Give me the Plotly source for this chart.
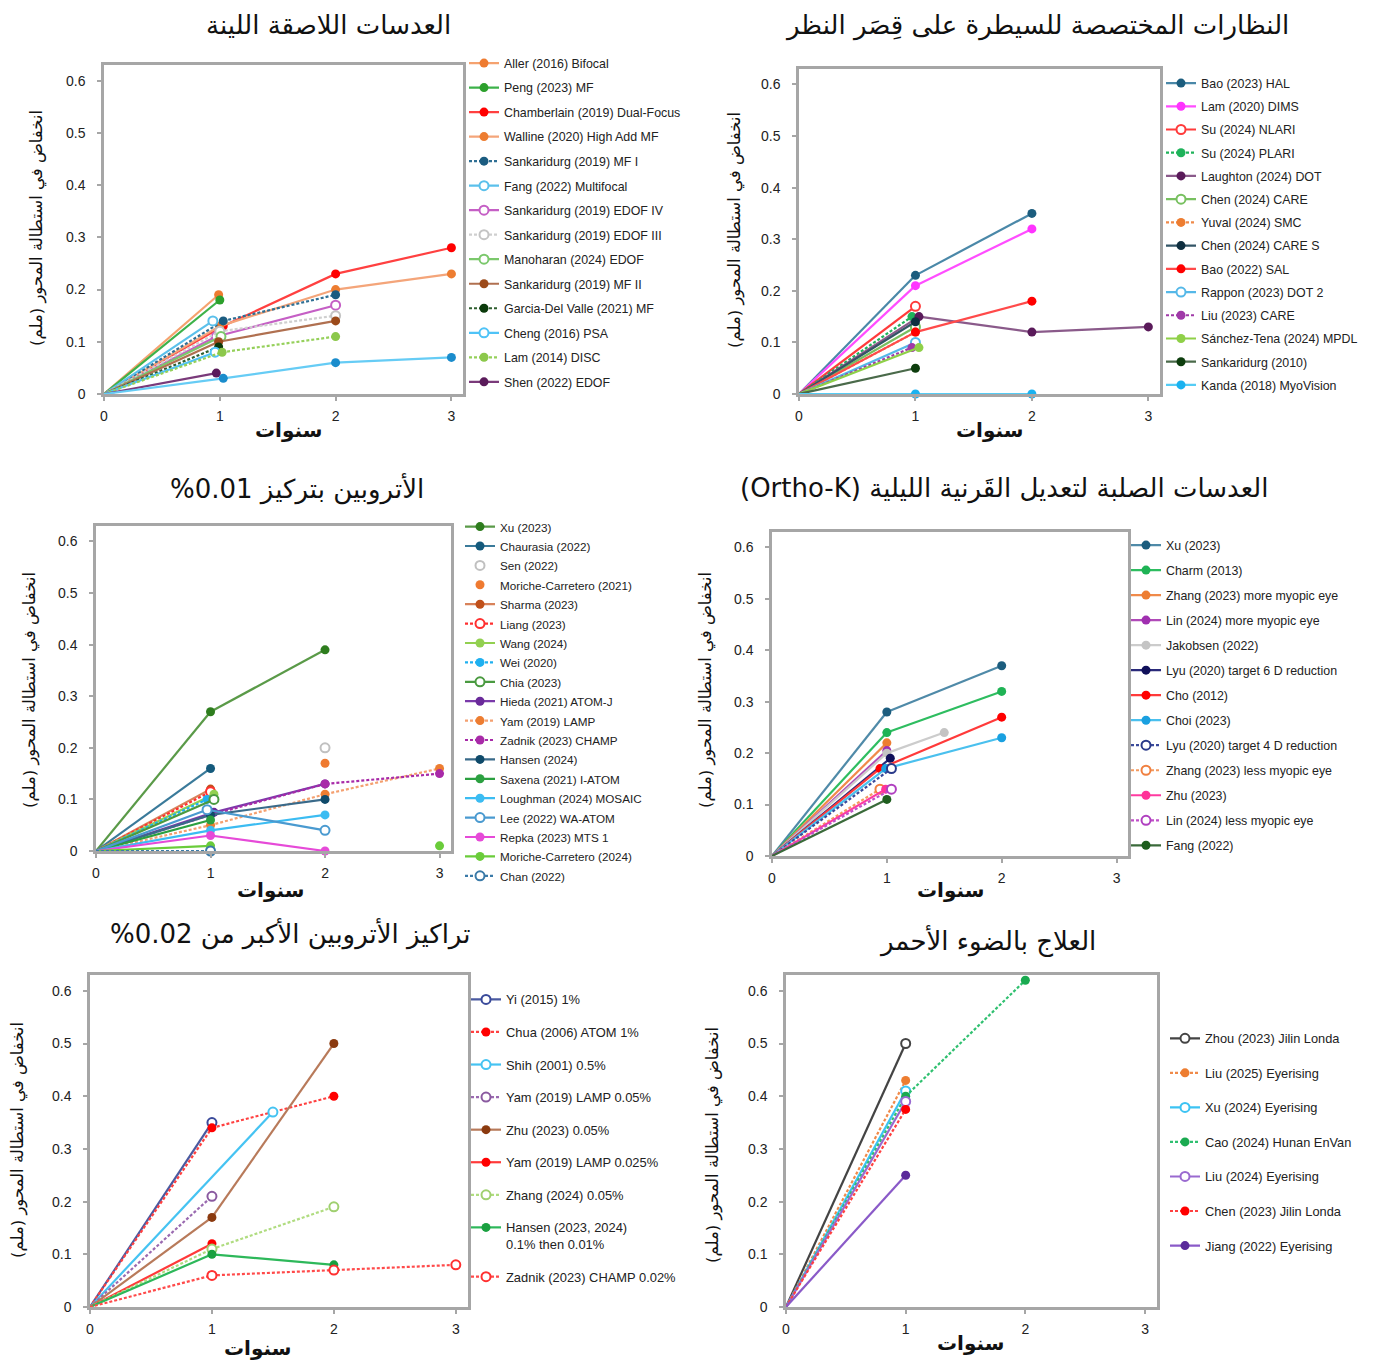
import plotly.graph_objects as go

# ---------------- data ----------------
P1_NAMES = ["Aller (2016) Bifocal", "Peng (2023) MF", "Chamberlain (2019) Dual-Focus",
            "Walline (2020) High Add MF", "Sankaridurg (2019) MF I", "Fang (2022) Multifocal",
            "Sankaridurg (2019) EDOF IV", "Sankaridurg (2019) EDOF III", "Manoharan (2024) EDOF",
            "Sankaridurg (2019) MF II", "Garcia-Del Valle (2021) MF", "Cheng (2016) PSA",
            "Lam (2014) DISC", "Shen (2022) EDOF", "(3-year series)"]
P1_YEARS = [[0, 0.99], [0, 1.0], [0, 1.03, 2, 3], [0, 1, 2, 3], [0, 1.03, 2], [0, 0.94],
            [0, 0.97, 2], [0, 1, 2], [0, 1.01], [0, 0.99, 2], [0, 0.99], [0, 0.96],
            [0, 1.02, 2], [0, 0.97], [0, 1.03, 2, 3]]
P1_VALUES = [[0, 0.19], [0, 0.18], [0, 0.13, 0.23, 0.28], [0, 0.13, 0.20, 0.23],
             [0, 0.14, 0.19], [0, 0.14], [0, 0.11, 0.17], [0, 0.12, 0.15], [0, 0.11],
             [0, 0.10, 0.14], [0, 0.09], [0, 0.08], [0, 0.08, 0.11], [0, 0.04],
             [0, 0.03, 0.06, 0.07]]
P1_IN_LEGEND = [True] * 14 + [False]

P2_NAMES = ["Bao (2023) HAL", "Lam (2020) DIMS", "Su (2024) NLARI", "Su (2024) PLARI",
            "Laughton (2024) DOT", "Chen (2024) CARE", "Yuval (2024) SMC", "Chen (2024) CARE S",
            "Bao (2022) SAL", "Rappon (2023) DOT 2", "Liu (2023) CARE",
            "Sánchez-Tena (2024) MPDL", "Sankaridurg (2010)", "Kanda (2018) MyoVision"]
P2_YEARS = [[0, 1, 2], [0, 1, 2], [0, 1], [0, 0.97], [0, 1.03, 2, 3], [0, 1], [0, 1], [0, 1],
            [0, 1, 2], [0, 1], [0, 0.97], [0, 1.03], [0, 1], [0, 1, 2]]
P2_VALUES = [[0, 0.23, 0.35], [0, 0.21, 0.32], [0, 0.17], [0, 0.15], [0, 0.15, 0.12, 0.13],
             [0, 0.13], [0, 0.12], [0, 0.14], [0, 0.12, 0.18], [0, 0.10], [0, 0.09],
             [0, 0.09], [0, 0.05], [0, 0.0, 0.0]]

P3_NAMES = ["Xu (2023)", "Chaurasia (2022)", "Sen (2022)", "Moriche-Carretero (2021)",
            "Sharma (2023)", "Liang (2023)", "Wang (2024)", "Wei (2020)", "Chia (2023)",
            "Hieda (2021) ATOM-J", "Yam (2019) LAMP", "Zadnik (2023) CHAMP", "Hansen (2024)",
            "Saxena (2021) I-ATOM", "Loughman (2024) MOSAIC", "Lee (2022) WA-ATOM",
            "Repka (2023) MTS 1", "Moriche-Carretero (2024)", "Chan (2022)"]
P3_YEARS = [[0, 1, 2], [0, 1], [2], [2], [0, 1], [0, 1], [0, 1.03], [0, 0.97], [0, 1.03],
            [0, 1.03, 2], [0, 1, 2, 3], [0, 1, 2, 3], [0, 1, 2], [0, 1], [0, 1, 2],
            [0, 0.97, 2], [0, 1, 2], [0, 1, 2, 3], [0, 1]]
P3_VALUES = [[0, 0.27, 0.39], [0, 0.16], [0.20], [0.17], [0, 0.12], [0, 0.115], [0, 0.11],
             [0, 0.10], [0, 0.10], [0, 0.075, 0.13], [0, 0.05, 0.11, 0.16],
             [0, 0.07, 0.13, 0.15], [0, 0.07, 0.10], [0, 0.06], [0, 0.04, 0.07],
             [0, 0.08, 0.04], [0, 0.03, 0.0], [0, 0.01, None, 0.01], [0, 0.0]]

P4_NAMES = ["Xu (2023)", "Charm (2013)", "Zhang (2023) more myopic eye",
            "Lin (2024) more myopic eye", "Jakobsen (2022)", "Lyu (2020) target 6 D reduction",
            "Cho (2012)", "Choi (2023)", "Lyu (2020) target 4 D reduction",
            "Zhang (2023) less myopic eye", "Zhu (2023)", "Lin (2024) less myopic eye",
            "Fang (2022)"]
P4_YEARS = [[0, 1, 2], [0, 1, 2], [0, 1], [0, 1], [0, 1, 1.5], [0, 1.03], [0, 0.94, 2],
            [0, 0.99, 2], [0, 1.04], [0, 0.94], [0, 0.99], [0, 1.04], [0, 1]]
P4_VALUES = [[0, 0.28, 0.37], [0, 0.24, 0.32], [0, 0.22], [0, 0.205], [0, 0.20, 0.24],
             [0, 0.19], [0, 0.17, 0.27], [0, 0.17, 0.23], [0, 0.17], [0, 0.13], [0, 0.13],
             [0, 0.13], [0, 0.11]]

P5_NAMES = ["Yi (2015) 1%", "Chua (2006) ATOM 1%", "Shih (2001) 0.5%",
            "Yam (2019) LAMP 0.05%", "Zhu (2023) 0.05%", "Yam (2019) LAMP 0.025%",
            "Zhang (2024) 0.05%", "Hansen (2023, 2024)<br>0.1% then 0.01%",
            "Zadnik (2023) CHAMP 0.02%"]
P5_YEARS = [[0, 1], [0, 1, 2], [0, 1.5], [0, 1], [0, 1, 2], [0, 1], [0, 1, 2], [0, 1, 2],
            [0, 1, 2, 3]]
P5_VALUES = [[0, 0.35], [0, 0.34, 0.40], [0, 0.37], [0, 0.21], [0, 0.17, 0.50], [0, 0.12],
             [0, 0.11, 0.19], [0, 0.10, 0.08], [0, 0.06, 0.07, 0.08]]

P6_NAMES = ["Zhou (2023) Jilin Londa", "Liu (2025) Eyerising", "Xu (2024) Eyerising",
            "Cao (2024) Hunan EnVan", "Liu (2024) Eyerising", "Chen (2023) Jilin Londa",
            "Jiang (2022) Eyerising"]
P6_YEARS = [[0, 1], [0, 1], [0, 1], [0, 1, 2], [0, 1], [0, 1], [0, 1]]
P6_VALUES = [[0, 0.50], [0, 0.43], [0, 0.41], [0, 0.40, 0.62], [0, 0.39], [0, 0.375], [0, 0.25]]

TITLES = ["العدسات اللاصقة اللينة",
          "النظارات المختصصة للسيطرة على قِصَر النظر",
          "الأتروبين بتركيز 0.01%",
          "العدسات الصلبة لتعديل القَرنية الليلية (Ortho-K)",
          "تراكيز الأتروبين الأكبر من 0.02%",
          "العلاج بالضوء الأحمر"]
Y_TITLE = "انخفاض في استطالة المحور (ملم)"
X_TITLE = "سنوات"

# ---------------- styles ----------------
# (line colour, marker colour, dashed, open marker)
P1_STYLE = [("#f5a26f", "#ee7b30", 0, 0), ("#3db24a", "#2ca02c", 0, 0), ("#ff4040", "#ff0000", 0, 0),
            ("#f4a57a", "#ed7d31", 0, 0), ("#2f6f94", "#1b5c80", 1, 0), ("#5bc0eb", "#5bc0eb", 0, 1),
            ("#c55fc5", "#c55fc5", 0, 1), ("#cfcfcf", "#c4c4c4", 1, 1), ("#7bc86c", "#7bc86c", 0, 1),
            ("#b07050", "#9c4a1a", 0, 0), ("#2f5f2f", "#0b3a0b", 1, 0), ("#4fc3f7", "#4fc3f7", 0, 1),
            ("#95d05a", "#8cc84b", 1, 0), ("#7a3a7a", "#5a1a5a", 0, 0), ("#66ccf5", "#1a8ccc", 0, 0)]
P2_STYLE = [("#4a88a8", "#1c5d7e", 0, 0), ("#ff4dff", "#ff33ff", 0, 0), ("#ff3b3b", "#ff3b3b", 0, 1),
            ("#1fb35a", "#1fb35a", 1, 0), ("#8a5a8a", "#5a1a5a", 0, 0), ("#78c060", "#78c060", 0, 1),
            ("#ef8a4a", "#ed7d31", 1, 0), ("#335566", "#0f2f40", 0, 0), ("#ff4a4a", "#ff0000", 0, 0),
            ("#55b8e8", "#55b8e8", 0, 1), ("#a03aa8", "#a03aa8", 1, 0), ("#8fd048", "#8fd048", 0, 0),
            ("#4a6a4a", "#0d3d0d", 0, 0), ("#55ccf5", "#1ab2f0", 0, 0)]
P3_STYLE = [("#5a9a48", "#2e7d1e", 0, 0), ("#3a7a9a", "#145a7c", 0, 0), ("#c0c0c0", "#c0c0c0", 0, 1),
            ("#ef7a30", "#ef7a30", 0, 0), ("#d8825a", "#c0501a", 0, 0), ("#ff3030", "#ff3030", 1, 1),
            ("#92d050", "#92d050", 0, 0), ("#1fb0f0", "#1fb0f0", 1, 0), ("#4a9a40", "#4a9a40", 0, 1),
            ("#7a3aaa", "#6a2a9a", 0, 0), ("#f4a070", "#ed7d31", 1, 0), ("#a82aa8", "#a82aa8", 1, 0),
            ("#3a6a8a", "#0f4a6a", 0, 0), ("#2ba040", "#2ba040", 0, 0), ("#3bbcf2", "#3bbcf2", 0, 0),
            ("#4a9ad0", "#4a9ad0", 0, 1), ("#e64ad8", "#e64ad8", 0, 0), ("#6acc3a", "#6acc3a", 0, 0),
            ("#3a7aa8", "#3a7aa8", 1, 1)]
P3_MODE = ["lm", "lm", "m", "m"] + ["lm"] * 15
P4_STYLE = [("#4f8aa8", "#1c5d7e", 0, 0), ("#2ebd60", "#1fb355", 0, 0), ("#f08a4a", "#ed7d31", 0, 0),
            ("#b04ab8", "#a030b0", 0, 0), ("#cccccc", "#c4c4c4", 0, 0), ("#2a2a7a", "#10105a", 0, 0),
            ("#ff3a3a", "#ff0000", 0, 0), ("#4ac0ee", "#1aa0e0", 0, 0), ("#3a4a9a", "#2a3a8a", 1, 1),
            ("#f39a60", "#f08040", 1, 1), ("#ff3aa0", "#ff3399", 0, 0), ("#c050c8", "#b040c0", 1, 1),
            ("#3a6a3a", "#1e5e1e", 0, 0)]
P5_STYLE = [("#4a5aa0", "#3a4a9a", 0, 1), ("#ff4040", "#ff0000", 1, 0), ("#45c3f2", "#45c3f2", 0, 1),
            ("#9a6ab0", "#8a5aa0", 1, 1), ("#b87a5a", "#8b3a0f", 0, 0), ("#ff3a3a", "#ff0000", 0, 0),
            ("#b0dc80", "#a0d070", 1, 1), ("#2db85a", "#1aa040", 0, 0), ("#ff4a4a", "#ff3030", 1, 1)]
P6_STYLE = [("#444444", "#444444", 0, 1), ("#f08a4a", "#ed7d31", 1, 0), ("#3cc3f3", "#3cc3f3", 0, 1),
            ("#30c070", "#1aaa50", 1, 0), ("#9a6ad0", "#9a6ad0", 0, 1), ("#ff4040", "#ff0000", 1, 0),
            ("#8a5ac8", "#5a2a9a", 0, 0)]

W, H = 1376, 1362
FONT = "Liberation Sans, Arial, DejaVu Sans, sans-serif"
AR_FONT = "DejaVu Sans, Liberation Sans, sans-serif"

# plot frames in pixels: left, right, top, bottom
FRAMES = [(104, 463, 65, 394), (799, 1160, 69, 394), (96, 451, 526, 851),
          (772, 1128, 532, 856), (90, 468, 975, 1307), (786, 1157, 975, 1307)]
# legend: text-left px, first-item centre px, font size, group gap
LEGENDS = [(504, 63, 12.4, 5.4), (1201, 83, 12.4, 4.1), (500, 527, 11.7, 0.4),
           (1166, 545, 12.4, 5.9), (506, 999, 12.9, 12.8), (1205, 1038, 12.8, 14.9)]
TITLE_POS = [(328, 25), (1037, 25), (297, 488), (1004, 488), (290, 933), (987, 940)]
YT_POS = [(37, 228), (735, 230), (30, 690), (706, 690), (18, 1140), (713, 1145)]
XT_POS = [(288, 430), (990, 430), (270, 890), (950, 890), (257, 1348), (970, 1343)]


def px(p):
    return p / W


def py(p):
    return 1 - p / H


def rtl(s):
    return "\u202b" + s + "\u202c"


fig = go.Figure()

PANELS = [
    (P1_NAMES, P1_YEARS, P1_VALUES, P1_STYLE, ["lm"] * 15, P1_IN_LEGEND),
    (P2_NAMES, P2_YEARS, P2_VALUES, P2_STYLE, ["lm"] * 14, [True] * 14),
    (P3_NAMES, P3_YEARS, P3_VALUES, P3_STYLE, P3_MODE, [True] * 19),
    (P4_NAMES, P4_YEARS, P4_VALUES, P4_STYLE, ["lm"] * 13, [True] * 13),
    (P5_NAMES, P5_YEARS, P5_VALUES, P5_STYLE, ["lm"] * 9, [True] * 9),
    (P6_NAMES, P6_YEARS, P6_VALUES, P6_STYLE, ["lm"] * 7, [True] * 7),
]

for k, (names, years, values, styles, modes, inleg) in enumerate(PANELS):
    ax = "" if k == 0 else str(k + 1)
    legname = "legend" if k == 0 else "legend" + str(k + 1)
    for i, name in enumerate(names):
        lc, mc, dashed, opn = styles[i]
        grp = "p%d_%d" % (k, i)
        dash = "3px,2px" if dashed else "solid"
        marker = dict(size=9, color="white" if opn else mc,
                      line=dict(color=mc, width=2 if opn else 0))
        xs, ys = years[i], values[i]
        if modes[i] == "m":
            fig.add_trace(go.Scatter(x=xs, y=ys, mode="markers", name=name, marker=marker,
                                     xaxis="x" + ax, yaxis="y" + ax, legend=legname,
                                     legendgroup=grp, cliponaxis=False))
            continue
        # first segment, from the origin (no marker at the origin)
        fig.add_trace(go.Scatter(x=xs[:2], y=ys[:2], mode="lines", showlegend=False,
                                 line=dict(color=lc, width=2.2, dash=dash),
                                 xaxis="x" + ax, yaxis="y" + ax, legend=legname,
                                 legendgroup=grp, hoverinfo="skip"))
        # measured points with markers and the remaining segments
        fig.add_trace(go.Scatter(x=xs[1:], y=ys[1:],
                                 mode="lines+markers", name=name, showlegend=inleg[i],
                                 line=dict(color=lc, width=2.2, dash=dash), marker=marker,
                                 xaxis="x" + ax, yaxis="y" + ax, legend=legname,
                                 legendgroup=grp, connectgaps=False, cliponaxis=False))

layout = dict(width=W, height=H, margin=dict(l=0, r=0, t=0, b=0, autoexpand=False),
              paper_bgcolor="white", plot_bgcolor="white",
              font=dict(family=FONT, size=14, color="#111"), showlegend=True)

annotations = []
for k, (l, r, t, b) in enumerate(FRAMES):
    ax = "" if k == 0 else str(k + 1)
    common = dict(showline=True, linecolor="#a6a6a6", linewidth=2.5, mirror=True,
                  showgrid=False, zeroline=False, ticks="outside", ticklen=4,
                  tickcolor="#a6a6a6", tickwidth=1.5, automargin=False,
                  tickfont=dict(family=FONT, size=14, color="#222"))
    layout["xaxis" + ax] = dict(domain=[px(l), px(r)], range=[0, 3.1], anchor="y" + ax,
                                tickvals=[0, 1, 2, 3], ticklabelstandoff=3, **common)
    layout["yaxis" + ax] = dict(domain=[py(b), py(t)], range=[0, 0.63], anchor="x" + ax,
                                tick0=0, dtick=0.1, ticklabelstandoff=9, **common)
    tx, fy, fs, gap = LEGENDS[k]
    legname = "legend" if k == 0 else "legend" + str(k + 1)
    layout[legname] = dict(x=px(tx - 40), y=py(fy - 14.5), xanchor="left", yanchor="top",
                           bgcolor="rgba(0,0,0,0)", borderwidth=0, itemwidth=30,
                           traceorder="grouped", tracegroupgap=gap, valign="top",
                           font=dict(family=FONT, size=fs, color="#222"))
    cx, cy = TITLE_POS[k]
    annotations.append(dict(text=rtl(TITLES[k]), x=px(cx), y=py(cy), xref="paper", yref="paper",
                            showarrow=False, xanchor="center", yanchor="middle",
                            font=dict(family=AR_FONT, size=26, color="#111")))
    yx, yy = YT_POS[k]
    annotations.append(dict(text=rtl(Y_TITLE), x=px(yx), y=py(yy), xref="paper", yref="paper",
                            showarrow=False, textangle=-90, xanchor="center", yanchor="middle",
                            font=dict(family=AR_FONT, size=16.5, color="#111")))
    xx, xy = XT_POS[k]
    annotations.append(dict(text="<b>" + rtl(X_TITLE) + "</b>", x=px(xx), y=py(xy),
                            xref="paper", yref="paper", showarrow=False,
                            xanchor="center", yanchor="middle",
                            font=dict(family=AR_FONT, size=20, color="#111")))

layout["annotations"] = annotations
fig.update_layout(**layout)
fig.write_html("out.html", config={"displayModeBar": False},
               post_script="document.body.style.margin='0';")
